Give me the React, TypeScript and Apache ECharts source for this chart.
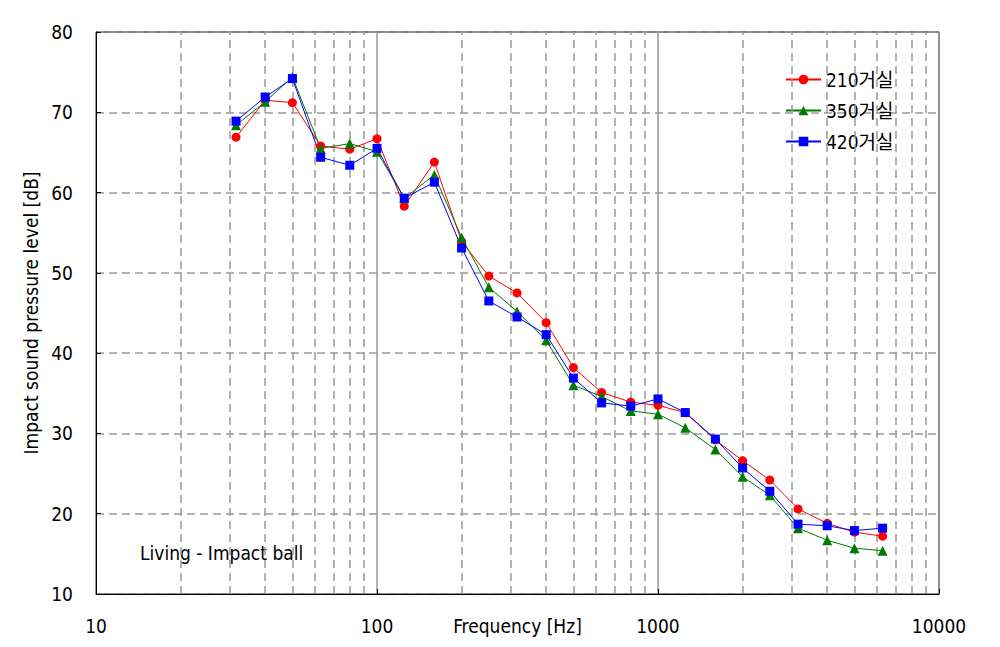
import React, { useEffect, useRef } from "react";
import * as echarts from "echarts";

const freqs = [31.5, 40, 50, 63, 80, 100, 125, 160, 200, 250, 315, 400, 500, 630, 800, 1000, 1250, 1600, 2000, 2500, 3150, 4000, 5000, 6300];
const s210 = [66.9, 71.5, 71.2, 65.8, 65.4, 66.7, 58.3, 63.8, 53.9, 49.6, 47.5, 43.8, 38.2, 35.1, 33.9, 33.5, 32.6, 29.2, 26.6, 24.2, 20.6, 18.8, 17.7, 17.2];
const s350 = [68.4, 71.3, 74.4, 65.5, 66.1, 65.1, 59.3, 62.2, 54.4, 48.2, 45.2, 41.6, 36.0, 34.6, 32.8, 32.4, 30.7, 28.0, 24.6, 22.3, 18.2, 16.7, 15.7, 15.4];
const s420 = [68.9, 71.9, 74.2, 64.4, 63.4, 65.5, 59.3, 61.3, 53.1, 46.5, 44.5, 42.3, 36.9, 33.8, 33.4, 34.3, 32.6, 29.3, 25.7, 22.8, 18.7, 18.5, 17.9, 18.2];
const seriesNames = ["210거실", "350거실", "420거실"];
const minorGrid = [20, 30, 40, 50, 60, 70, 80, 90, 200, 300, 400, 500, 600, 700, 800, 900, 2000, 3000, 4000, 5000, 6000, 7000, 8000, 9000];
const noteText = "Living - Impact ball";

const FONT = "'DejaVu Sans Condensed', 'Liberation Sans', 'Noto Sans CJK KR', sans-serif";

export default function App() {
  const ref = useRef<HTMLDivElement>(null);
  useEffect(() => {
    document.body.style.margin = "0";
    document.body.style.overflow = "hidden";
    if (!ref.current) return;
    const chart = echarts.init(ref.current, null, { renderer: "svg" });
    const mk = (name: string, data: number[], color: string, symbol: string, size: number) => ({
      name,
      type: "line",
      data: freqs.map((f, i) => [f, data[i]]),
      symbol,
      symbolSize: size,
      lineStyle: { color, width: 1 },
      itemStyle: { color },
      z: 5,
    });
    chart.setOption({
      animation: false,
      textStyle: { fontFamily: FONT },
      grid: {
        left: 96, right: 61, top: 32, bottom: 53,
        outerBoundsMode: "none",
        containLabel: false,
        show: true, borderColor: "#000", borderWidth: 1, backgroundColor: "transparent",
      },
      legend: {
        orient: "vertical",
        left: 780,
        top: 65,
        itemWidth: 35,
        itemHeight: 12,
        itemGap: 12,
        textStyle: { fontSize: 19, color: "#000", fontFamily: FONT },
        data: seriesNames,
      },
      xAxis: {
        type: "log",
        logBase: 10,
        min: 10,
        max: 10000,
        name: "Frequency [Hz]",
        nameLocation: "middle",
        nameGap: 22,
        nameMoveOverlap: false,
        nameTextStyle: { fontSize: 19, color: "#000", fontFamily: FONT },
        axisLine: { show: true, lineStyle: { color: "#000" } },
        axisTick: { show: true, inside: true, length: 5, lineStyle: { color: "#000" } },
        axisLabel: { fontSize: 19, color: "#000", margin: 22, fontFamily: FONT, formatter: (v: number) => String(v) },
        splitLine: { show: true, lineStyle: { color: "#999", width: 1.5, type: "solid" } },
      },
      yAxis: {
        type: "value",
        min: 10,
        max: 80,
        interval: 10,
        name: "Impact sound pressure level [dB]",
        nameLocation: "middle",
        nameGap: 56,
        nameMoveOverlap: false,
        nameTextStyle: { fontSize: 19, color: "#000", fontFamily: FONT },
        axisLine: { show: true, lineStyle: { color: "#000" } },
        axisTick: { show: true, inside: true, length: 5, lineStyle: { color: "#000" } },
        axisLabel: { fontSize: 19, color: "#000", margin: 23, fontFamily: FONT },
        splitLine: { show: true, lineStyle: { color: "#999", width: 1.5, type: [8, 5] } },
      },
      graphic: [
        { type: "text", left: 140, top: 543, style: { text: noteText, fontSize: 19, fill: "#000", fontFamily: FONT } },
      ],
      series: [
        {
          name: "grid-minor",
          type: "line",
          data: [],
          silent: true,
          markLine: {
            silent: true,
            symbol: "none",
            label: { show: false },
            lineStyle: { color: "#999", width: 1.5, type: [8, 5] },
            data: minorGrid.map((v) => ({ xAxis: v })),
          },
        },
        mk(seriesNames[0], s210, "#ff0000", "circle", 9),
        mk(seriesNames[1], s350, "#007a00", "triangle", 10),
        mk(seriesNames[2], s420, "#0000ff", "rect", 9),
      ],
    });
    return () => chart.dispose();
  }, []);
  return <div ref={ref} style={{ width: 1000, height: 647 }} />;
}
